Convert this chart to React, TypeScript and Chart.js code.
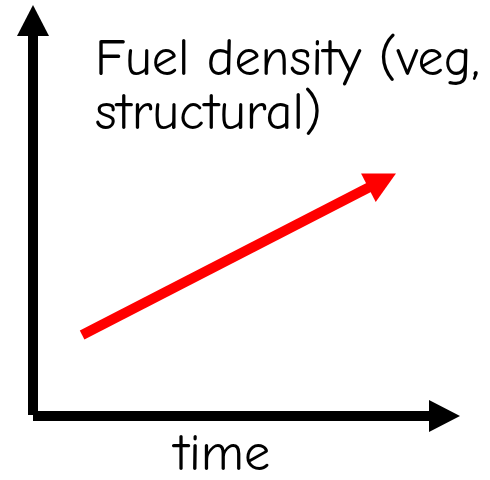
import React, { useEffect, useRef } from "react";
import { Chart, registerables } from "chart.js";

Chart.register(...registerables);

// Schematic data (axis units 0..10)
const timeValues = [1.15, 8.5];
const fuelDensity = [1.97, 5.9];
const axisMin = 0;
const axisMax = 10;
const titleLines = ["Fuel density (veg,", "structural)"];
const xAxisLabel = "time";

const FONT_FAMILY = '"Comic Sans MS", "Comic Neue", "DejaVu Sans", sans-serif';

function drawArrowHead(ctx: CanvasRenderingContext2D, tipX: number, tipY: number, angle: number, len: number, halfW: number, color: string) {
  const bx = tipX - Math.cos(angle) * len;
  const by = tipY - Math.sin(angle) * len;
  const px = -Math.sin(angle) * halfW;
  const py = Math.cos(angle) * halfW;
  ctx.beginPath();
  ctx.moveTo(tipX, tipY);
  ctx.lineTo(bx + px, by + py);
  ctx.lineTo(bx - px, by - py);
  ctx.closePath();
  ctx.fillStyle = color;
  ctx.fill();
}

const schematicPlugin = {
  id: "schematic",
  afterDatasetsDraw(chart: any) {
    const ctx: CanvasRenderingContext2D = chart.ctx;
    const xs = chart.scales.x;
    const ys = chart.scales.y;
    const ox = xs.getPixelForValue(axisMin);
    const oy = ys.getPixelForValue(axisMin);
    const xEnd = xs.getPixelForValue(axisMax);
    const yEnd = ys.getPixelForValue(axisMax);
    const headLen = 31;
    const headHalf = 16;
    const lw = 10;
    ctx.save();
    // axes
    ctx.strokeStyle = "#000";
    ctx.lineWidth = lw;
    ctx.lineCap = "butt";
    ctx.beginPath();
    ctx.moveTo(ox, oy - 1);
    ctx.lineTo(ox, yEnd + headLen);
    ctx.stroke();
    ctx.beginPath();
    ctx.moveTo(ox, oy);
    ctx.lineTo(xEnd - headLen, oy);
    ctx.stroke();
    drawArrowHead(ctx, ox, yEnd, -Math.PI / 2, headLen, headHalf, "#000");
    drawArrowHead(ctx, xEnd, oy, 0, headLen, headHalf, "#000");

    // red trend arrow from dataset elements
    const meta = chart.getDatasetMeta(0);
    const p0 = meta.data[0];
    const p1 = meta.data[meta.data.length - 1];
    const ang = Math.atan2(p1.y - p0.y, p1.x - p0.x);
    ctx.strokeStyle = "#ff0000";
    ctx.lineWidth = lw;
    ctx.beginPath();
    ctx.moveTo(p0.x, p0.y);
    ctx.lineTo(p1.x - Math.cos(ang) * (headLen - 2), p1.y - Math.sin(ang) * (headLen - 2));
    ctx.stroke();
    drawArrowHead(ctx, p1.x, p1.y, ang, headLen, headHalf, "#ff0000");

    // texts
    ctx.fillStyle = "#000";
    ctx.textBaseline = "alphabetic";
    let size = 44;
    ctx.font = `${size}px ${FONT_FAMILY}`;
    const w = ctx.measureText(titleLines[0]).width;
    size = Math.min(56, size * 385 / w);
    ctx.font = `${size}px ${FONT_FAMILY}`;
    ctx.textAlign = "left";
    ctx.fillText(titleLines[0], 95, 75);
    ctx.fillText(titleLines[1], 95, 129);
    ctx.textAlign = "center";
    ctx.fillText(xAxisLabel, 222, 470);
    ctx.restore();
  },
};

export default function App() {
  const ref = useRef<HTMLCanvasElement | null>(null);
  useEffect(() => {
    document.body.style.margin = "0";
    if (!ref.current) return;
    const chart = new Chart(ref.current, {
      type: "line",
      data: {
        datasets: [
          {
            label: "Fuel density",
            data: timeValues.map((t, i) => ({ x: t, y: fuelDensity[i] })),
            borderWidth: 0,
            showLine: false,
            pointRadius: 0,
            borderColor: "#ff0000",
          },
        ],
      },
      options: {
        animation: false,
        responsive: true,
        maintainAspectRatio: false,
        devicePixelRatio: 1,
        layout: { padding: { left: 33, right: 30, top: 5, bottom: 64 } },
        plugins: { legend: { display: false }, tooltip: { enabled: false } },
        scales: {
          x: { type: "linear", min: axisMin, max: axisMax, display: false },
          y: { type: "linear", min: axisMin, max: axisMax, display: false },
        },
      },
      plugins: [schematicPlugin],
    });
    return () => chart.destroy();
  }, []);
  return (
    <div style={{ position: "absolute", left: 0, top: 0, width: 490, height: 480 }}>
      <canvas ref={ref} />
    </div>
  );
}
